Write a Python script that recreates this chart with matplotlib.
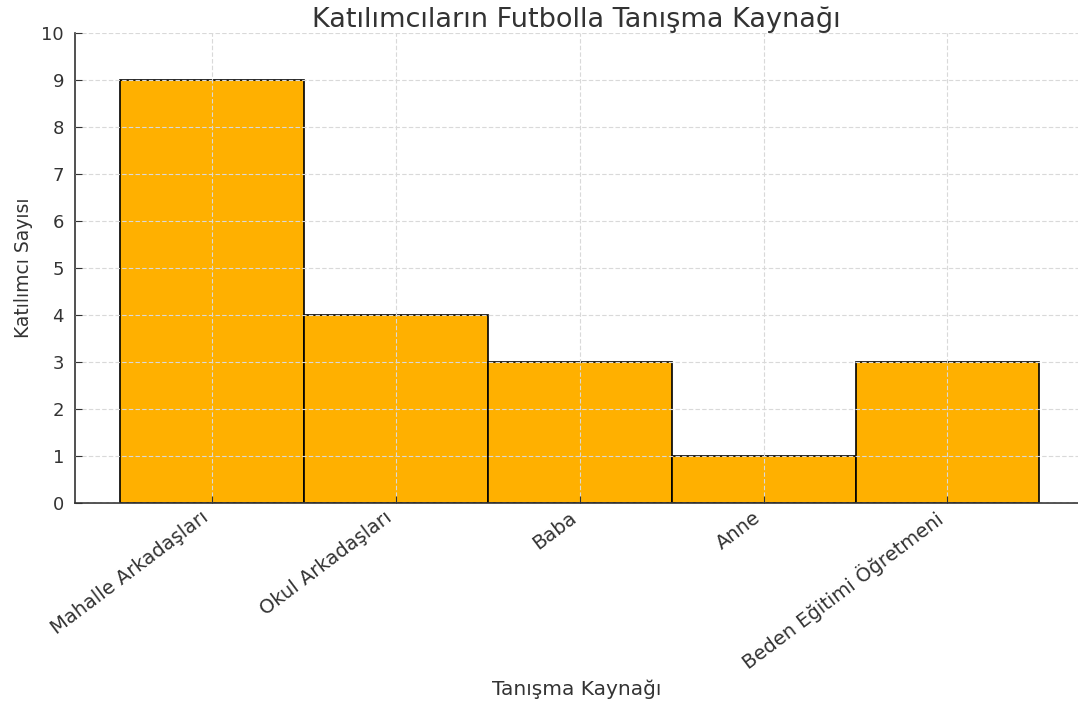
import matplotlib.pyplot as plt

sources = ["Mahalle Arkadaşları", "Okul Arkadaşları", "Baba", "Anne", "Beden Eğitimi Öğretmeni"]
counts = [9, 4, 3, 1, 3]

text_color = "#333333"

fig = plt.figure(figsize=(10.78, 7.03), dpi=100)
ax = fig.add_axes([0.0696, 0.2845, 0.9304, 0.6686])

ax.bar(range(len(sources)), counts, width=1.0, color="#FFB000",
       edgecolor="black", linewidth=1.2)

ax.set_axisbelow(False)
ax.grid(True, linestyle=(0, (4, 2)), color="#d9d9d9", linewidth=0.8)

ax.set_xlim(-0.745, 4.71)
ax.set_ylim(0, 10)
ax.set_yticks(range(0, 11))
ax.set_xticks(range(len(sources)))

ax.tick_params(direction="in", length=5, colors=text_color)
ax.tick_params(axis="y", pad=8, labelsize=13)
ax.tick_params(axis="x", labelsize=14)
ax.set_xticklabels(sources, rotation=37, ha="right")

for side in ["top", "right"]:
    ax.spines[side].set_visible(False)
for side in ["left", "bottom"]:
    ax.spines[side].set_color(text_color)
    ax.spines[side].set_linewidth(1.2)

ax.set_title("Katılımcıların Futbolla Tanışma Kaynağı", fontsize=19.5,
             color=text_color, pad=4)
ax.set_xlabel("Tanışma Kaynağı", fontsize=14.5, color=text_color)
ax.xaxis.set_label_coords(0.5, -0.375)
ax.set_ylabel("Katılımcı Sayısı", fontsize=13.5, color=text_color, labelpad=6)

fig.savefig("out.png")
